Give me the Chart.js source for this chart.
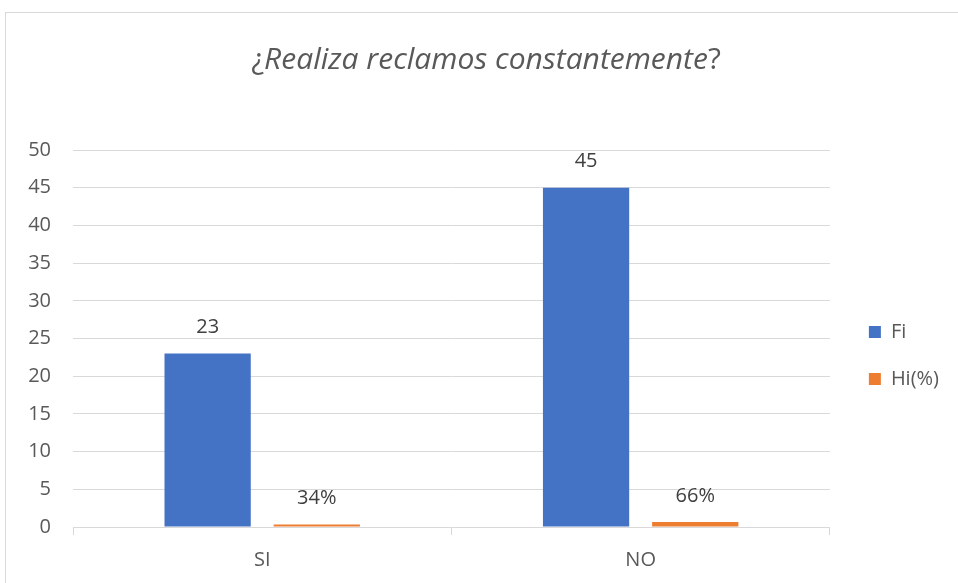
<!DOCTYPE html>
<html>
<head>
<meta charset="utf-8">
<script src="https://cdn.jsdelivr.net/npm/chart.js@4.4.1/dist/chart.umd.min.js"></script>
<style>
  html, body { margin: 0; padding: 0; background: #fff; overflow: hidden; }
  #chartFrame { position: absolute; left: 5px; top: 12px; width: 960px; height: 580px; border: 1px solid #d9d9d9; }
  #chartWrap { position: absolute; left: 0; top: 0; width: 952px; height: 570px; }
</style>
</head>
<body>
<div id="chartFrame"><div id="chartWrap"><canvas id="reclamosChart"></canvas></div></div>
<script>
// Survey answers: frequency (Fi) and relative frequency (Hi)
const categories = ['SI', 'NO'];
const fiValues = [23, 45];
const hiValues = [0.34, 0.66];
const seriesNames = ['Fi', 'Hi(%)'];
const yMin = 0, yMax = 50, yStep = 5;

const FONT = '"Open Sans", "DejaVu Sans", sans-serif';
const TEXT_GREY = '#595959';
const GRID_GREY = '#d9d9d9';

// Title with upright question marks and an italic body
const titleParts = [
    { text: '¿', italic: false },
    { text: 'Realiza reclamos constantemente', italic: true },
    { text: '?', italic: false }
];

const mixedTitle = {
    id: 'mixedTitle',
    afterDraw(chart) {
        const ctx = chart.ctx;
        ctx.save();
        ctx.fillStyle = TEXT_GREY;
        ctx.textBaseline = 'middle';
        const size = 30;
        const fontFor = p => (p.italic ? 'italic ' : '') + size + 'px ' + FONT;
        let total = 0;
        titleParts.forEach(p => { ctx.font = fontFor(p); total += ctx.measureText(p.text).width; });
        let x = chart.width / 2 - total / 2 + 4;
        titleParts.forEach(p => {
            ctx.font = fontFor(p);
            ctx.fillText(p.text, x, 47);
            x += ctx.measureText(p.text).width;
        });
        ctx.restore();
    }
};

// Value labels above each bar
const barValueLabels = {
    id: 'barValueLabels',
    afterDatasetsDraw(chart) {
        const ctx = chart.ctx;
        ctx.save();
        ctx.font = '20px ' + FONT;
        ctx.fillStyle = '#404040';
        ctx.textAlign = 'center';
        ctx.textBaseline = 'middle';
        chart.data.datasets.forEach((ds, i) => {
            chart.getDatasetMeta(i).data.forEach((bar, j) => {
                const v = ds.data[j];
                const txt = i === 1 ? Math.round(v * 100) + '%' : String(v);
                ctx.fillText(txt, bar.x, bar.y - 26);
            });
        });
        ctx.restore();
    }
};

// Nudge the legend block right and a little below the plot's middle
const legendOffset = {
    id: 'legendOffset',
    afterLayout(chart) {
        const lg = chart.legend;
        lg.top += 17; lg.bottom += 17;
        lg.left += 12; lg.right += 12;
    }
};

new Chart(document.getElementById('reclamosChart'), {
    type: 'bar',
    data: {
        labels: categories,
        datasets: [
            { label: seriesNames[0], data: fiValues, backgroundColor: '#4472C4', categoryPercentage: 0.577, barPercentage: 0.79 },
            { label: seriesNames[1], data: hiValues, backgroundColor: '#ED7D31', categoryPercentage: 0.577, barPercentage: 0.79 }
        ]
    },
    options: {
        responsive: true, maintainAspectRatio: false,
        animation: false,
        layout: { padding: { top: 137, right: 21, left: 0, bottom: 0 } },
        scales: {
            x: {
                grid: { offset: true, drawOnChartArea: false, drawTicks: true, tickLength: 8, color: GRID_GREY },
                border: { color: GRID_GREY },
                ticks: { color: TEXT_GREY, font: { family: FONT, size: 20 }, padding: 13 },
                afterFit: s => { s.height = 56; }
            },
            y: {
                min: yMin, max: yMax,
                grid: { color: GRID_GREY, drawTicks: false },
                border: { display: false },
                ticks: { stepSize: yStep, color: TEXT_GREY, font: { family: FONT, size: 20 }, padding: 22 },
                afterFit: s => { s.width = 67; }
            }
        },
        plugins: {
            legend: {
                position: 'right',
                fullSize: false,
                labels: { boxWidth: 12, boxHeight: 12, color: TEXT_GREY, font: { family: FONT, size: 20 }, padding: 27 }
            },
            tooltip: { enabled: false }
        }
    },
    plugins: [mixedTitle, barValueLabels, legendOffset]
});
</script>
</body>
</html>
